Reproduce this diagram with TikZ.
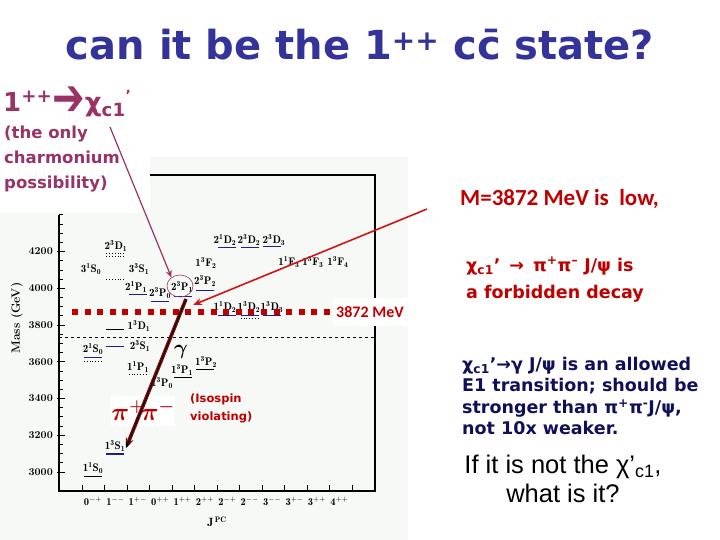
\documentclass[tikz,border=0pt]{standalone}
\usepackage{fontspec}
\usepackage{amsmath,bm}
\usetikzlibrary{arrows.meta,positioning,shapes.geometric}
\newfontfamily\comic{DejaVu Sans}
\newfontfamily\calib{Carlito}
\newfontfamily\arialf{Liberation Sans}
\definecolor{SlideNavy}{HTML}{333399}
\definecolor{SlidePlum}{HTML}{993366}
\definecolor{SlideRed}{HTML}{C00000}
\definecolor{SlideInk}{HTML}{10105A}
\definecolor{LevelBlue}{HTML}{1F1F8C}
\definecolor{PlotPale}{HTML}{F6F9F6}
\definecolor{ArrowRed}{HTML}{D21414}
\definecolor{ArrowMaroon}{HTML}{7A0C0C}
\tikzset{
  axisline/.style={line width=1.3pt,draw=black},
  ticklab/.style={font=\fontsize{10.5}{10}\selectfont\bfseries,inner sep=0pt},
  jpclab/.style={font=\fontsize{10.5}{10}\selectfont,inner sep=0pt},
  lvlab/.style={font=\fontsize{11}{10}\selectfont,inner sep=0pt},
  lvline/.style={line width=0.9pt,draw=black},
  lvblue/.style={line width=0.9pt,draw=LevelBlue},
  lvdot/.style={line width=0.8pt,draw=black,dotted},
  massline/.style={line width=6pt,draw=SlideRed,dash pattern=on 6pt off 6.6pt},
  ring/.style={ellipse,draw=SlidePlum,line width=0.6pt,minimum width=26pt,minimum height=22pt,inner sep=0pt},
  plumarrow/.style={-{Stealth[length=7pt,width=6pt]},line width=1.2pt,draw=SlidePlum},
  redarrow/.style={-{Stealth[length=9pt,width=7pt]},line width=1.6pt,draw=ArrowRed},
  decayarrow/.style={-{Stealth[length=10pt,width=8pt]},line width=3.6pt,draw=ArrowMaroon},
  slidetext/.style={inner sep=0pt,align=left}
}

\begin{document}
\begin{tikzpicture}[x=1pt,y=-1pt]
\useasboundingbox (0,0) rectangle (720,540);

% pale backdrop of the level plot
\fill[PlotPale] (0,213) -- (150,213) -- (150,157) -- (408,157) -- (408,540) -- (0,540) -- cycle;

% frame, ticks
\draw[axisline] (59,215) -- (59,491) -- (375,491) -- (375,175) -- (150,175);
\foreach \m in {3000,3050,...,4400}
  \draw[line width=0.8pt] (59,{472-0.1837*(\m-3000)}) -- ++(4,0);
\foreach \m in {3000,3200,...,4200}{
  \draw[line width=1pt] (57,{472-0.1837*(\m-3000)}) -- ++(8,0);
  \node[ticklab,anchor=east] (m\m) at (53,{472-0.1837*(\m-3000)}) {\m};
}
\foreach \i in {0,...,12}
  \draw[line width=1pt] ({82+22.5*\i},491) -- ++(0,-6);
\foreach \jp [count=\i from 0] in {0^{-+},1^{--},1^{+-},0^{++},1^{++},2^{++},2^{-+},2^{--},3^{--},3^{+-},3^{++},4^{++}}
  \node[jpclab] (jpc\i) at ({93+22.4*\i},501) {$\mathbf{\jp}$};
\node[font=\fontsize{12}{12}\selectfont] (jpcname) at (217,522) {$\mathbf{J^{\,PC}}$};
\node[font=\fontsize{12}{12}\selectfont\bfseries,rotate=90] (masslab) at (17,318) {Mass (GeV)};

% DDbar threshold
\draw[dashed,line width=0.6pt] (59,337) -- (375,337);

% levels
\foreach \c/\ly in {0/476,1/329,4/377,5/369}
  \draw[lvline] ({93+22.4*\c-9},\ly) -- ++(18,0);
\foreach \c/\ly in {0/357,1/346,2/294,3/301,4/296,5/290,6/247,7/247,8/246,6/315,7/315,8/315}
  \draw[lvblue] ({93+22.4*\c-9},\ly) -- ++(18,0);
\draw[lvblue,line width=1.6pt] ({93+22.4-9},454) -- ++(18,0);
\foreach \c/\ly in {0/361,2/374,1/279,1/253,1/256,7/318}
  \draw[lvdot] ({93+22.4*\c-9},\ly) -- ++(18,0);

\foreach \x/\y/\t/\n in {93/468/{1^1S_0}/l1S0, 115/446/{1^3S_1}/l1S1, 93/349/{2^1S_0}/l2S0,
    140/346/{2^3S_1}/l2S1, 139/326/{1^3D_1}/l1D1, 138/367/{1^1P_1}/l1P1, 162/383/{1^3P_0}/l1P0,
    182/370/{1^3P_1}/l1Pa, 206/362/{1^3P_2}/l1P2, 91/269/{3^1S_0}/l3S0, 139/269/{3^3S_1}/l3S1,
    116/246/{2^3D_1}/l2D1, 136/287/{2^1P_1}/l2P1, 160/293/{2^3P_0}/l2P0, 182/287/{2^3P_1}/l2Pa,
    205/281/{2^3P_2}/l2P2, 206/263/{1^3F_2}/l1F2, 225/240/{2^1D_2}/l2D2, 249/240/{2^3D_2}/l2Da,
    274/240/{2^3D_3}/l2D3, 225/307/{1^1D_2}/l1D2, 249/307/{1^3D_2}/l1Da, 272/307/{1^3D_3}/l1D3,
    289/262/{1^1F_3}/l1F3, 313/262/{1^3F_3}/l1Fa, 338/262/{1^3F_4}/l1F4}
  \node[lvlab] (\n) at (\x,\y) {$\mathbf{\t}$};

% 3872 line
\draw[massline] (72,312) -- (330,312);
\node[fill=white,text=SlideRed,font=\calib\bfseries\fontsize{16}{16}\selectfont,minimum height=28pt,inner sep=3pt] (x3872) at (370,312) {3872 MeV};

\node[ring] (ring) at (180,286) {};
\node[font=\fontsize{20}{20}\selectfont,inner sep=0pt] (gam) at (181,352) {$\bm{\gamma}$};
\node[fill=white,text=SlideRed,font=\fontsize{24}{24}\selectfont,minimum width=60pt,minimum height=30pt,inner sep=0pt] (pipi) at (143,411) {$\bm{\pi}^{\bm{+}}\!\bm{\pi}^{\bm{-}}$};
\node[slidetext,anchor=north west,text=SlideRed,font=\comic\bfseries\fontsize{11.5}{18}\selectfont] (isospin) at (190,394) {(Isospin\\violating)};

% title and left notes
\node[font=\comic\bfseries\fontsize{40}{44}\selectfont,text=SlideNavy,inner sep=0pt,anchor=base] (title) at (360,60) {can it be the 1\textsuperscript{++} c\={c} state?};
\node[slidetext,anchor=base west,text=SlidePlum,font=\comic\bfseries\fontsize{26}{30}\selectfont] (chilab) at (3,112)
  {1\textsuperscript{++}{\mdseries\raisebox{-4pt}{\scalebox{1.5}[2.0]{➔}}}χ\textsubscript{c1}\raisebox{0.45em}{\fontsize{14}{14}\selectfont’}};
\node[slidetext,anchor=north west,text=SlidePlum,font=\comic\bfseries\fontsize{16.5}{25}\selectfont] (onlytxt) at (4,126)
  {(the only\\charmonium\\possibility)};

% right notes
\node[slidetext,anchor=west,text=SlideRed,font=\calib\bfseries\fontsize{23}{26}\selectfont] (lowtxt) at (460,199) {M=3872 MeV is\ \ low,};
\node[slidetext,anchor=north west,text=SlideRed,font=\comic\bfseries\fontsize{17.5}{27}\selectfont] (forbid) at (466,257)
  {χ\textsubscript{c1}’ \,→\, π\textsuperscript{+}π\textsuperscript{–} J/ψ is\\a forbidden decay};
\node[slidetext,anchor=north west,text=SlideInk,font=\comic\bfseries\fontsize{17.5}{21.5}\selectfont] (allowed) at (462,357)
  {χ\textsubscript{c1}’→γ J/ψ is an allowed\\E1 transition; should be\\stronger than π\textsuperscript{+}π\textsuperscript{-}J/ψ,\\not 10x weaker.};
\node[inner sep=0pt,align=center,anchor=north,font=\arialf\fontsize{25.5}{29}\selectfont] (whatis) at (563,455)
  {If it is not the χ’\textsubscript{c1},\\what is it?};

% connectors
\coordinate (plumtail) at (110,127);
\coordinate (redtail) at (427,209);
\coordinate (redtip) at (193,305);
\coordinate (p21) at (186,299);
\coordinate (jpsi) at (126,448);
\draw[plumarrow] (plumtail) -- (ring.135);
\draw[redarrow] (redtail) -- (redtip);
\draw[decayarrow] (p21) -- (jpsi);
\draw[line width=0.9pt,-{Stealth[length=6pt,width=5pt]}] (p21) -- (jpsi);
\end{tikzpicture}
\end{document}
